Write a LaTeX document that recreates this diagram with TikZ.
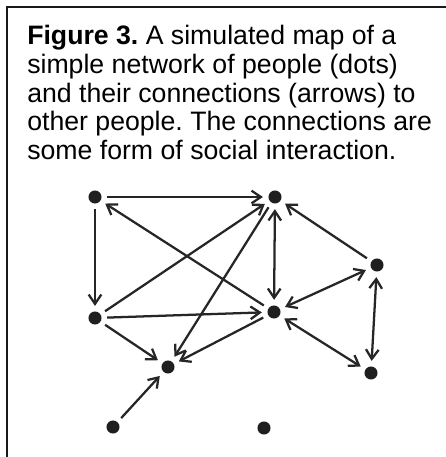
\documentclass[tikz,border=0pt]{standalone}
\usepackage{fontspec}
\setmainfont{Liberation Sans}
\usetikzlibrary{arrows.meta}
\frenchspacing

\begin{document}
\begin{tikzpicture}[
  x=0.75pt, y=-0.75pt,
  person/.style={circle, fill=black!88, inner sep=0pt,
                 minimum size=9.8pt, outer sep=4.2pt},
  link/.style={-{Straight Barb[length=7pt,width=9.5pt]},
               line width=1.7pt, color=black!85},
  mutual/.style={link, {Straight Barb[length=7pt,width=9.5pt]}-{Straight Barb[length=7pt,width=9.5pt]}}
]
  \useasboundingbox (0,0) rectangle (446,457);
  % frame, only its top and left edges are seen
  \draw[line width=1.6pt, color=black!90] (7,457) -- (7,7) -- (446,7);

  \node[anchor=north west, inner sep=0pt, align=left,
        font=\fontsize{20pt}{21.6pt}\selectfont] (caption) at (27,25)
    {\textbf{Figure 3.} A simulated map of a\\
     simple network of people (dots)\\
     and their connections (arrows) to\\
     other people. The connections are\\
     some form of social interaction.};

  % people
  \node[person] (topl) at (95,197)  {};
  \node[person] (topm) at (275,197) {};
  \node[person] (east) at (377,265) {};
  \node[person] (midl) at (95,318)  {};
  \node[person] (midr) at (274,312) {};
  \node[person] (ctr)  at (168,367) {};
  \node[person] (lowr) at (371,373) {};
  \node[person] (botl) at (113,427) {};
  \node[person] (botm) at (264,428) {};

  % connections
  \draw[link] (topl) -- (topm);
  \draw[link] (topl) -- (midl);
  \draw[link] (midr) -- (topl);
  \draw[link] (midl) -- (topm);
  \draw[link] (topm) -- (ctr);
  \draw[link] (midl) -- (midr);
  \draw[link] (midl) -- (ctr);
  \draw[link] (midr) -- (ctr);
  \draw[link] (east) -- (topm);
  \draw[link] (botl) -- (ctr);
  \draw[mutual] (topm) -- (midr);
  \draw[mutual] (midr) -- (east);
  \draw[mutual] (east) -- (lowr);
  \draw[mutual] (midr) -- (lowr);
\end{tikzpicture}
\end{document}
